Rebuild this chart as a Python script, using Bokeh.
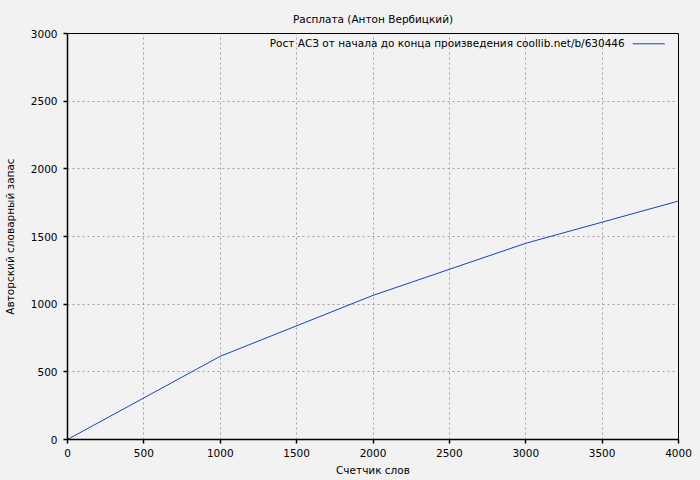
from bokeh.plotting import figure
from bokeh.models import Range1d, FixedTicker, Label, Arrow
from bokeh.embed import file_html
from bokeh.resources import INLINE

# Data
words = [0, 1000, 2000, 3000, 4000]
vocab = [0, 615, 1065, 1450, 1762]
x_ticks = [0, 500, 1000, 1500, 2000, 2500, 3000, 3500, 4000]
y_ticks = [0, 500, 1000, 1500, 2000, 2500, 3000]
title_text = "Расплата (Антон Вербицкий)"
legend_text = "Рост АСЗ от начала до конца произведения coollib.net/b/630446"
x_label = "Счетчик слов"
y_label = "Авторский словарный запас"

FONT = "DejaVu Sans"
FS = "10.5px"
BG = "#f2f2f2"
LINE = "#1446b4"

p = figure(
    frame_width=611, frame_height=406,
    min_border_left=67, min_border_right=14, min_border_top=33, min_border_bottom=33,
    x_range=Range1d(0, 4000), y_range=Range1d(0, 3000),
    output_backend="svg", toolbar_location=None,
    background_fill_color=BG, border_fill_color=BG,
)

p.title.text = title_text
p.title.align = "center"
p.title.text_font = FONT
p.title.text_font_size = FS
p.title.text_font_style = "normal"
p.title.text_color = "black"
p.title.standoff = 17

p.outline_line_color = "black"
p.outline_line_width = 1

for ax in (p.xaxis[0], p.yaxis[0]):
    ax.major_label_text_font = FONT
    ax.major_label_text_font_size = FS
    ax.major_label_text_color = "black"
    ax.axis_label_text_font = FONT
    ax.axis_label_text_font_size = FS
    ax.axis_label_text_font_style = "normal"
    ax.axis_label_text_color = "black"
    ax.axis_line_color = "black"
    ax.axis_line_width = 1.5
    ax.major_tick_line_color = "black"
    ax.major_tick_line_width = 1.5
    ax.major_tick_out = 4
    ax.major_tick_in = 0
    ax.minor_tick_line_color = None

p.xaxis.ticker = FixedTicker(ticks=x_ticks)
p.yaxis.ticker = FixedTicker(ticks=y_ticks)
p.xaxis.axis_label = x_label
p.yaxis.axis_label = y_label
p.xaxis.major_label_standoff = 5
p.yaxis.major_label_standoff = 6
p.xaxis.axis_label_standoff = 4
p.yaxis.axis_label_standoff = 12

for g in (p.xgrid[0], p.ygrid[0]):
    g.grid_line_color = "#a0a0a0"
    g.grid_line_dash = "2 3"
    g.grid_line_width = 1

p.line(words, vocab, line_color=LINE, line_width=1)

p.add_layout(Label(x=3648, y=2928, text=legend_text, text_align="right",
                   text_baseline="middle", text_font=FONT,
                   text_font_size=FS, text_color="black"))
p.add_layout(Arrow(x_start=3701, y_start=2924, x_end=3910, y_end=2924,
                   end=None, line_color=LINE, line_width=1))

html = file_html(p, INLINE)
html = html.replace("</head>", "<style>html,body{background:%s;}</style></head>" % BG, 1)
open("out.html", "w").write(html)
